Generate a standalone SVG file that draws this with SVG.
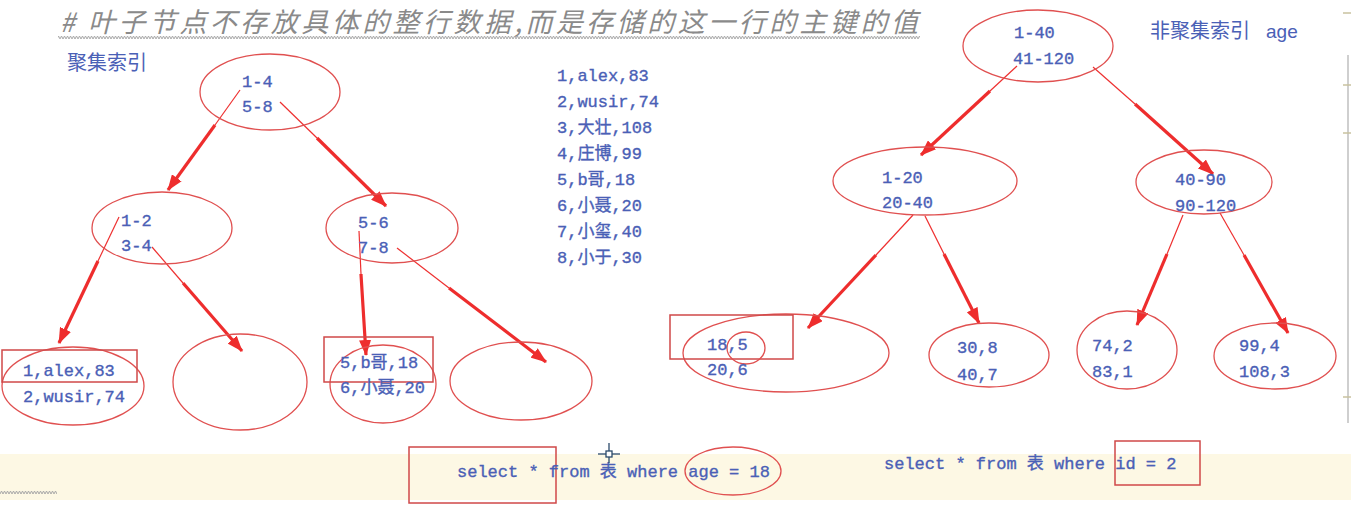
<svg xmlns="http://www.w3.org/2000/svg" width="1351" height="510" viewBox="0 0 1351 510">
<style>
.t{font-family:"Liberation Mono","Noto Sans CJK SC",monospace;font-size:17px;fill:#4a60b6;stroke:#4a60b6;stroke-width:0.35}
.cj{font-family:"Noto Sans CJK SC","Liberation Sans",sans-serif;font-size:20px;fill:#4a60b6}
.el{fill:none;stroke:#e05050;stroke-width:1.3}
.bx{fill:none;stroke:#d04848;stroke-width:1.5}
.thin{stroke:#ee3030;stroke-width:1.2;fill:none}
.thick{stroke:#ee2d2d;stroke-width:3.2;fill:none;marker-end:url(#ah)}
</style>
<defs>
<marker id="ah" markerWidth="16" markerHeight="12" refX="15" refY="6" orient="auto" markerUnits="userSpaceOnUse">
<path d="M0,0 L16,6 L0,12 z" fill="#ee2d2d"/>
</marker>
<pattern id="wave" x="0" y="0" width="6" height="5" patternUnits="userSpaceOnUse">
<path d="M0,4 L1.5,1 L3,4 L4.5,1 L6,4" fill="none" stroke="#a8a8a8" stroke-width="1"/>
</pattern>
</defs>
<rect width="1351" height="510" fill="#ffffff"/>
<rect x="0" y="454" width="1351" height="46" fill="#fdf8e4"/>
<rect x="0" y="490" width="57" height="5" fill="url(#wave)"/>
<g id="edge-ui">
<line x1="1348" y1="55" x2="1348" y2="423" stroke="#cfcfcf" stroke-width="2"/>
<line x1="1343" y1="13" x2="1351" y2="13" stroke="#c9c29f" stroke-width="1.5"/>
<line x1="1343" y1="85" x2="1351" y2="85" stroke="#c9c29f" stroke-width="1.5"/>
<line x1="1343" y1="133" x2="1351" y2="133" stroke="#c9c29f" stroke-width="1.5"/>
<line x1="1343" y1="397" x2="1351" y2="397" stroke="#c9c29f" stroke-width="1.5"/>
</g>
<g id="title">
<text x="60" y="32" font-family="'Noto Sans CJK SC','Liberation Sans',sans-serif" font-size="27" font-style="italic" fill="#8a8a8a" textLength="858" lengthAdjust="spacing"># 叶子节点不存放具体的整行数据,而是存储的这一行的主键的值</text>
<rect x="58" y="34" width="862" height="5" fill="url(#wave)"/>
</g>
<g id="label-clustered"><text class="cj" x="67" y="70">聚集索引</text></g>
<g id="label-nonclustered"><text class="cj" x="1150" y="38">非聚集索引</text><text x="1266" y="38" font-family="'Liberation Sans',sans-serif" font-size="19" fill="#4a60b6">age</text></g>
<g id="data-list">
<text class="t" x="557" y="81">1,alex,83</text>
<text class="t" x="557" y="107">2,wusir,74</text>
<text class="t" x="557" y="133">3,大壮,108</text>
<text class="t" x="557" y="159">4,庄博,99</text>
<text class="t" x="557" y="185">5,b哥,18</text>
<text class="t" x="557" y="211">6,小聂,20</text>
<text class="t" x="557" y="237">7,小玺,40</text>
<text class="t" x="557" y="263">8,小于,30</text>
</g>
<g id="connectors">
<line class="thin" x1="240" y1="90" x2="215" y2="125"/><line class="thick" x1="215" y1="125" x2="168" y2="190"/>
<line class="thin" x1="280" y1="102" x2="317" y2="138"/><line class="thick" x1="317" y1="138" x2="386" y2="206"/>
<line class="thin" x1="119" y1="217" x2="98" y2="261"/><line class="thick" x1="98" y1="261" x2="59" y2="343"/>
<line class="thin" x1="152" y1="247" x2="183" y2="283"/><line class="thick" x1="183" y1="283" x2="242" y2="351"/>
<line class="thin" x1="359" y1="231" x2="361" y2="274"/><line class="thick" x1="361" y1="274" x2="366" y2="355"/>
<line class="thin" x1="397" y1="248" x2="449" y2="288"/><line class="thick" x1="449" y1="288" x2="546" y2="362"/>
<line class="thin" x1="1017" y1="66" x2="990" y2="91"/><line class="thick" x1="990" y1="91" x2="921" y2="155"/>
<line class="thin" x1="1093" y1="67" x2="1135" y2="104"/><line class="thick" x1="1135" y1="104" x2="1213" y2="174"/>
<line class="thin" x1="913" y1="215" x2="876" y2="255"/><line class="thick" x1="876" y1="255" x2="808" y2="328"/>
<line class="thin" x1="925" y1="216" x2="944" y2="254"/><line class="thick" x1="944" y1="254" x2="979" y2="323"/>
<line class="thin" x1="1183" y1="215" x2="1167" y2="254"/><line class="thick" x1="1167" y1="254" x2="1137" y2="325"/>
<line class="thin" x1="1220" y1="213" x2="1244" y2="255"/><line class="thick" x1="1244" y1="255" x2="1288" y2="333"/>
</g>
<g id="c-root">
<ellipse class="el" cx="270" cy="92" rx="70" ry="38"/>
<text class="t" x="242" y="87">1-4</text>
<text class="t" x="242" y="112">5-8</text>
</g>
<g id="c-left">
<ellipse class="el" cx="162" cy="228" rx="70" ry="36"/>
<text class="t" x="121" y="226">1-2</text>
<text class="t" x="121" y="251">3-4</text>
</g>
<g id="c-right">
<ellipse class="el" cx="392" cy="228" rx="66" ry="35"/>
<text class="t" x="358" y="228">5-6</text>
<text class="t" x="358" y="253">7-8</text>
</g>
<g id="c-leaf1">
<ellipse class="el" cx="73" cy="386" rx="71" ry="39"/>
<rect class="bx" x="2" y="350" width="135" height="32"/>
<text class="t" x="23" y="376">1,alex,83</text>
<text class="t" x="23" y="402">2,wusir,74</text>
</g>
<g id="c-leaf2"><ellipse class="el" cx="240" cy="382" rx="67" ry="48"/></g>
<g id="c-leaf3">
<ellipse class="el" cx="383" cy="384" rx="53" ry="39"/>
<rect class="bx" x="324" y="337" width="109" height="45"/>
<text class="t" x="340" y="368">5,b哥,18</text>
<text class="t" x="340" y="393">6,小聂,20</text>
</g>
<g id="c-leaf4"><ellipse class="el" cx="521" cy="381" rx="71" ry="39"/></g>
<g id="n-root">
<ellipse class="el" cx="1038" cy="46" rx="75" ry="36"/>
<text class="t" x="1014" y="38">1-40</text>
<text class="t" x="1013" y="64">41-120</text>
</g>
<g id="n-left">
<ellipse class="el" cx="925" cy="181" rx="92" ry="34"/>
<text class="t" x="882" y="183">1-20</text>
<text class="t" x="882" y="208">20-40</text>
</g>
<g id="n-right">
<ellipse class="el" cx="1204" cy="182" rx="68" ry="32"/>
<text class="t" x="1175" y="185">40-90</text>
<text class="t" x="1175" y="211">90-120</text>
</g>
<g id="n-leaf1">
<ellipse class="el" cx="786" cy="353" rx="103" ry="39"/>
<rect class="bx" x="670" y="315" width="123" height="44"/>
<ellipse class="el" cx="746" cy="348" rx="19" ry="16"/>
<text class="t" x="707" y="350">18,5</text>
<text class="t" x="707" y="375">20,6</text>
</g>
<g id="n-leaf2">
<ellipse class="el" cx="989" cy="355" rx="60" ry="32"/>
<text class="t" x="957" y="353">30,8</text>
<text class="t" x="957" y="380">40,7</text>
</g>
<g id="n-leaf3">
<ellipse class="el" cx="1127" cy="350" rx="50" ry="39"/>
<text class="t" x="1092" y="351">74,2</text>
<text class="t" x="1092" y="377">83,1</text>
</g>
<g id="n-leaf4">
<ellipse class="el" cx="1275" cy="356" rx="61" ry="33"/>
<text class="t" x="1239" y="351">99,4</text>
<text class="t" x="1239" y="377">108,3</text>
</g>
<g id="sql1">
<rect class="bx" x="409" y="447" width="147" height="56"/>
<text class="t" x="457" y="477">select * from 表 where age = 18</text>
<ellipse class="el" cx="733" cy="471" rx="48" ry="24"/>
</g>
<g id="sql2">
<text class="t" x="884" y="469">select * from 表 where id = 2</text>
<rect class="bx" x="1115" y="441" width="85" height="44"/>
</g>
<g id="cursor" stroke="#2b4a6b" stroke-width="1.3" fill="none">
<line x1="609" y1="443" x2="609" y2="463"/>
<line x1="598" y1="454" x2="620" y2="454"/>
<rect x="606" y="451" width="6" height="6" fill="#ffffff"/>
</g>
</svg>
